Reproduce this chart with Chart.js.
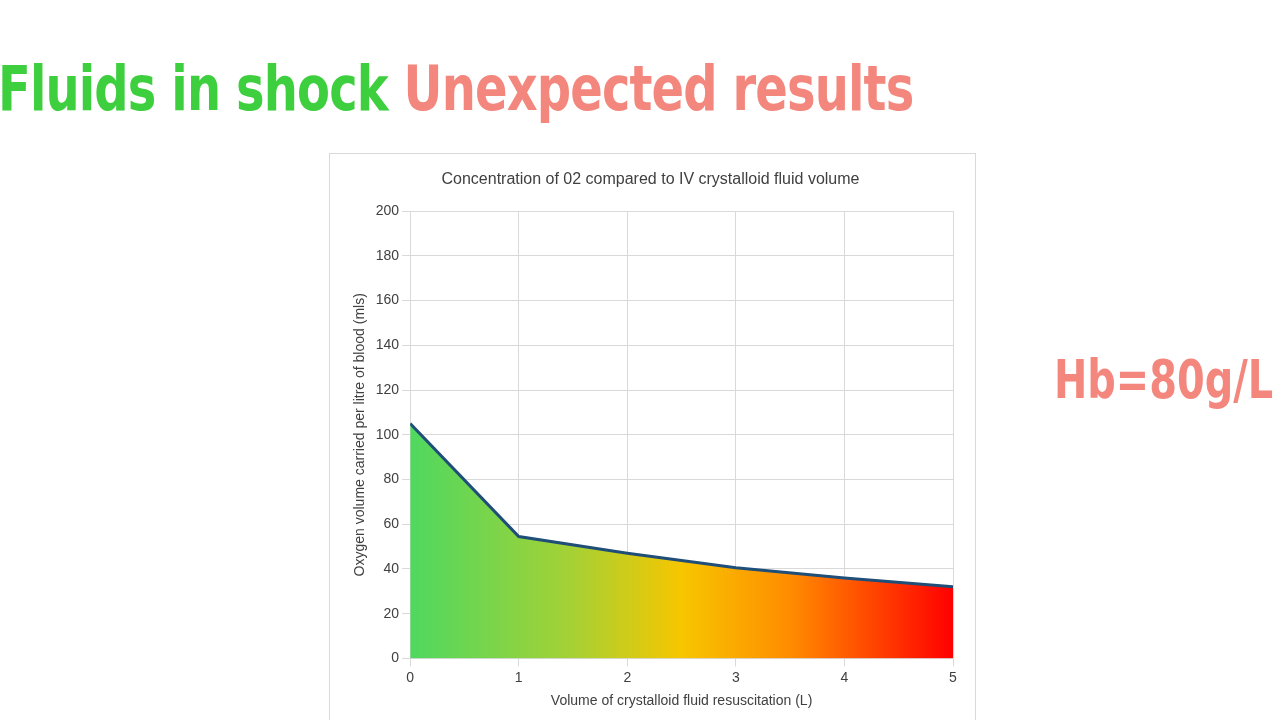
<!DOCTYPE html>
<html>
<head>
<meta charset="utf-8">
<script src="https://cdn.jsdelivr.net/npm/chart.js@4"></script>
<style>
  body { margin: 0; width: 1280px; height: 720px; background: #fff; overflow: hidden; position: relative; font-family: "Liberation Sans", Arial, sans-serif; }
  #title { position: absolute; left: -2px; top: 52px; font-family: "DejaVu Sans Condensed", "DejaVu Sans", sans-serif; font-weight: bold; font-size: 62px; letter-spacing: -1px; white-space: nowrap; transform: scaleX(0.86); transform-origin: left top; }
  #title .g { color: #3ecf3e; }
  #title .r { color: #f4877d; }
  #hb { position: absolute; left: 1054px; top: 348px; font-family: "DejaVu Sans Condensed", sans-serif; font-weight: bold; font-size: 54px; color: #f4877d; transform: scaleX(0.82); transform-origin: left top; white-space: nowrap; }
  #box { position: absolute; left: 329px; top: 153px; width: 647px; height: 580px; border: 1px solid #d9d9d9; box-sizing: border-box; }
</style>
</head>
<body>
<div id="title"><span class="g">Fluids in shock</span> <span class="r">Unexpected results</span></div>
<div id="hb">Hb=80g/L</div>
<div id="box"><canvas id="chart" width="645" height="578"></canvas></div>
<script>
const volumes = [0, 1, 2, 3, 4, 5];
const oxygen = [105, 54.5, 47, 40.5, 36, 32];

function areaGradient(context) {
    const chart = context.chart;
    const area = chart.chartArea;
    if (!area) return '#f7c600';
    const g = chart.ctx.createLinearGradient(area.left, 0, area.right, 0);
    g.addColorStop(0, '#4fd860');
    g.addColorStop(0.3, '#a6d134');
    g.addColorStop(0.5, '#f7c600');
    g.addColorStop(0.7, '#ff8c00');
    g.addColorStop(1, '#ff0000');
    return g;
}

new Chart(document.getElementById('chart'), {
    type: 'line',
    data: {
        labels: volumes,
        datasets: [{
            data: oxygen,
            borderColor: '#1f4e79',
            borderWidth: 3,
            backgroundColor: areaGradient,
            fill: 'origin',
            pointRadius: 0,
            tension: 0
        }]
    },
    options: {
        responsive: false,
        animation: false,
        layout: { padding: { left: 18, right: 22, top: 0, bottom: 18 } },
        plugins: {
            legend: { display: false },
            title: {
                display: true,
                text: 'Concentration of 02 compared to IV crystalloid fluid volume',
                color: '#404040',
                font: { size: 16, family: 'Liberation Sans', weight: 'normal' },
                padding: { top: 16, bottom: 22 }
            }
        },
        scales: {
            x: {
                type: 'linear',
                min: 0, max: 5,
                ticks: { stepSize: 1, color: '#404040', font: { size: 14 } },
                grid: { color: '#d9d9d9' },
                border: { color: '#d9d9d9' },
                title: { display: true, text: 'Volume of crystalloid fluid resuscitation (L)', color: '#404040', font: { size: 14 } }
            },
            y: {
                min: 0, max: 200,
                ticks: { stepSize: 20, color: '#404040', font: { size: 14 } },
                grid: { color: '#d9d9d9' },
                border: { color: '#d9d9d9' },
                title: { display: true, text: 'Oxygen volume carried per litre of blood (mls)', color: '#404040', font: { size: 14 } }
            }
        }
    }
});
</script>
</body>
</html>
